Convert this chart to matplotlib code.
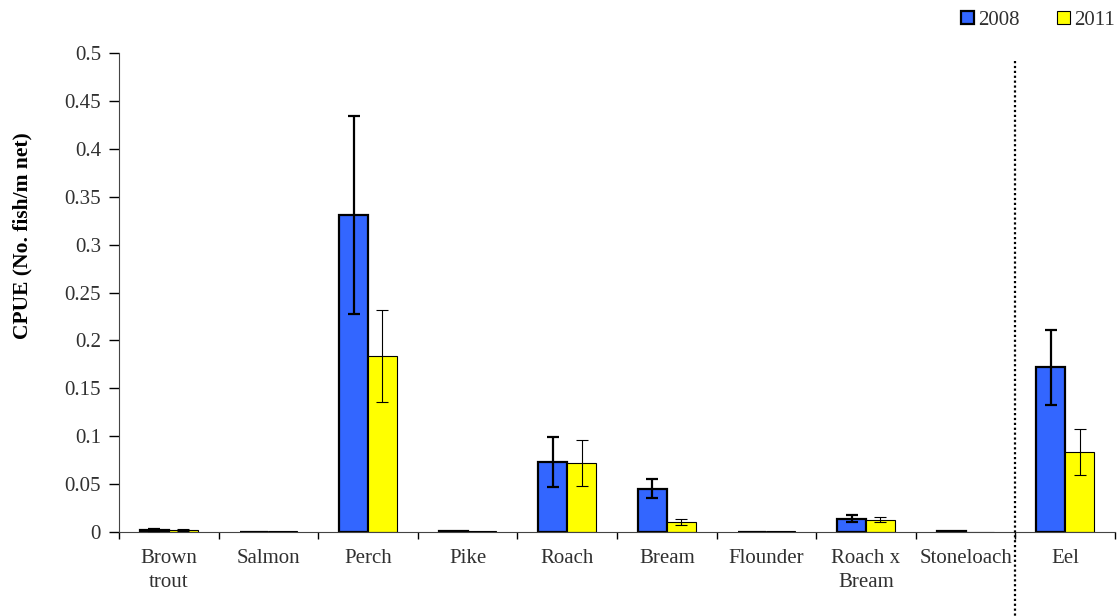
import matplotlib
matplotlib.use("Agg")
import matplotlib.pyplot as plt
import matplotlib.transforms as mtransforms
import numpy as np

plt.rcParams['font.family'] = ['Liberation Serif', 'DejaVu Serif']
plt.rcParams['text.color'] = '#303030'
plt.rcParams['xtick.labelcolor'] = '#303030'
plt.rcParams['ytick.labelcolor'] = '#303030'

species = ["Brown\ntrout", "Salmon", "Perch", "Pike", "Roach", "Bream",
           "Flounder", "Roach x\nBream", "Stoneloach", "Eel"]
cpue_2008 = [0.002, 0.0, 0.331, 0.0015, 0.073, 0.045, 0.0, 0.014, 0.0015, 0.172]
err_2008 = [0.001, 0.0, 0.103, 0.0, 0.026, 0.010, 0.0, 0.004, 0.0, 0.039]
cpue_2011 = [0.002, 0.0006, 0.184, 0.0007, 0.072, 0.0105, 0.0006, 0.013, 0.0, 0.083]
err_2011 = [0.001, 0.0, 0.048, 0.0, 0.024, 0.003, 0.0, 0.003, 0.0, 0.024]
years = ["2008", "2011"]
yticks = [0, 0.05, 0.1, 0.15, 0.2, 0.25, 0.3, 0.35, 0.4, 0.45, 0.5]

W, H = 1119, 616
fig = plt.figure(figsize=(W / 100, H / 100), dpi=100)
ax = fig.add_axes([119 / W, 1 - 532 / H, (1115 - 119) / W, (532 - 53) / H])

x = np.arange(len(species))
w = 0.29
ax.bar(x - w / 2, cpue_2008, w, color="#3366FF", edgecolor="black",
       linewidth=1.6, label=years[0], zorder=2)
ax.bar(x + w / 2, cpue_2011, w, color="#FFFF00", edgecolor="black",
       linewidth=0.8, label=years[1], zorder=2)

m08 = np.array(err_2008) > 0
m11 = np.array(err_2011) > 0
ax.errorbar((x - w / 2)[m08], np.array(cpue_2008)[m08], yerr=np.array(err_2008)[m08],
            fmt="none", ecolor="black", elinewidth=1.6, capsize=4.5, capthick=1.6, zorder=3)
ax.errorbar((x + w / 2)[m11], np.array(cpue_2011)[m11], yerr=np.array(err_2011)[m11],
            fmt="none", ecolor="black", elinewidth=0.8, capsize=4.5, capthick=0.8, zorder=3)

ax.set_xlim(-0.5, len(species) - 0.5)
ax.set_ylim(0, 0.5)
ax.set_yticks(yticks)
ax.set_yticklabels([f"{v:g}" for v in yticks])
ax.set_xticks(x)
ax.set_xticklabels(species, fontsize=15, linespacing=1.35)
ax.set_xticks(np.arange(-0.5, len(species)), minor=True)
ax.tick_params(axis="x", which="major", length=0, pad=12)
ax.tick_params(axis="x", which="minor", length=5, width=1)
ax.tick_params(axis="y", length=7, width=1, labelsize=15, pad=6)

for s in ["top", "right"]:
    ax.spines[s].set_visible(False)
ax.spines["left"].set_color("#444444")
ax.spines["bottom"].set_color("#444444")

fig.text(22 / W, 1 - 236 / H, "CPUE (No. fish/m net)", rotation=90,
         ha="center", va="center", fontsize=15.5, fontweight="bold", color="black")

trans = mtransforms.blended_transform_factory(ax.transData, ax.transAxes)
ax.plot([8.5, 8.5], [0.983, -0.18], transform=trans, color="black",
        linestyle=(0, (1, 1.2)), linewidth=1.6, clip_on=False, zorder=4)

ax.legend(loc="center right", bbox_to_anchor=(1.0, 1.068), ncol=2, frameon=False,
          fontsize=15, handlelength=0.62, handleheight=0.62, handletextpad=0.2,
          columnspacing=1.8, borderaxespad=0, borderpad=0)

fig.savefig("out.png", dpi=100)
